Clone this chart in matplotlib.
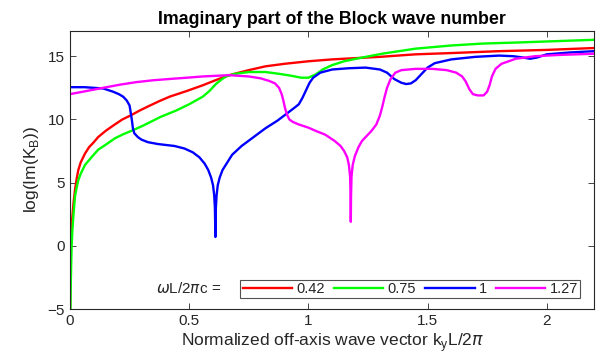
import numpy as np
import matplotlib
matplotlib.use('Agg')
import matplotlib.pyplot as plt

plt.rcParams['font.family'] = ['Liberation Sans', 'DejaVu Sans']
plt.rcParams['mathtext.fontset'] = 'dejavusans'

# values
freqs = ['0.42', '0.75', '1', '1.27']
colors = ['#ff0000', '#00ff00', '#0000ff', '#ff00ff']

x_red = [0.0005, 0.0015, 0.003, 0.004, 0.006, 0.01, 0.015, 0.021, 0.028, 0.035, 0.045,
         0.063, 0.08, 0.1, 0.118, 0.15, 0.188, 0.22, 0.258, 0.292, 0.33, 0.375, 0.418,
         0.49, 0.557, 0.61, 0.668, 0.75, 0.82, 0.9, 1.0, 1.1, 1.2, 1.3, 1.45, 1.6,
         1.8, 2.0, 2.2]
y_red = [-5.0, -2.0, -0.5, 0.0, 1.3, 2.3, 3.4, 4.4, 5.3, 6.0, 6.6,
         7.3, 7.8, 8.2, 8.6, 9.1, 9.6, 10.0, 10.35, 10.7, 11.05, 11.45, 11.8,
         12.25, 12.7, 13.1, 13.5, 13.9, 14.2, 14.4, 14.6, 14.75, 14.85, 14.95, 15.15, 15.25,
         15.4, 15.5, 15.65]

x_green = [0.002, 0.003, 0.005, 0.007, 0.01, 0.014, 0.021, 0.028, 0.035, 0.045, 0.063,
           0.09, 0.118, 0.15, 0.188, 0.22, 0.258, 0.3, 0.327, 0.38, 0.445, 0.5, 0.557,
           0.585, 0.612, 0.635, 0.654, 0.69, 0.75, 0.82, 0.88, 0.93, 0.97, 1.0, 1.03,
           1.06, 1.1, 1.15, 1.2, 1.31, 1.45, 1.6, 1.73, 1.9, 2.05, 2.2]
y_green = [-5.0, -3.5, -1.5, 0.0, 1.2, 2.3, 3.9, 4.6, 5.2, 5.7, 6.4,
           7.0, 7.6, 8.0, 8.5, 8.8, 9.1, 9.45, 9.7, 10.2, 10.7, 11.2, 11.8,
           12.25, 12.8, 13.15, 13.4, 13.6, 13.75, 13.75, 13.6, 13.45, 13.3, 13.3, 13.55,
           13.95, 14.3, 14.6, 14.8, 15.2, 15.6, 15.85, 16.0, 16.1, 16.2, 16.3]

x_blue = [0.0, 0.06, 0.1, 0.139, 0.18, 0.205, 0.223, 0.238, 0.25, 0.256, 0.26, 0.264,
          0.27, 0.285, 0.3, 0.327, 0.37, 0.438, 0.48, 0.515, 0.543, 0.565, 0.58, 0.592,
          0.6, 0.605, 0.608, 0.61, 0.612, 0.615, 0.62, 0.628, 0.64, 0.66, 0.68, 0.72,
          0.77, 0.82, 0.87, 0.905, 0.94, 0.96, 0.975, 0.99, 1.005, 1.02, 1.05, 1.1,
          1.17, 1.24, 1.3, 1.33, 1.36, 1.39, 1.41, 1.43, 1.45, 1.47, 1.5, 1.53, 1.6,
          1.7, 1.8, 1.86, 1.9, 1.93, 1.96, 2.0, 2.1, 2.2]
y_blue = [12.55, 12.55, 12.5, 12.45, 12.2, 12.0, 11.8, 11.5, 11.1, 10.4, 9.9, 9.3,
          8.9, 8.6, 8.4, 8.2, 8.05, 7.9, 7.7, 7.4, 7.0, 6.5, 6.0, 5.4,
          4.8, 4.0, 3.0, 0.7, 3.0, 4.0, 4.8, 5.4, 6.0, 6.6, 7.2, 7.9,
          8.6, 9.3, 9.9, 10.4, 10.9, 11.2, 11.7, 12.3, 12.9, 13.3, 13.7, 13.95,
          14.05, 14.1, 13.95, 13.7, 13.2, 12.9, 12.8, 12.85, 13.1, 13.5, 14.1, 14.45, 14.75,
          14.95, 15.05, 15.0, 14.9, 14.8, 14.9, 15.15, 15.3, 15.4]

x_mag = [0.0, 0.07, 0.139, 0.21, 0.278, 0.35, 0.418, 0.49, 0.557, 0.668, 0.75, 0.8,
         0.835, 0.86, 0.877, 0.888, 0.895, 0.902, 0.91, 0.92, 0.935, 0.96, 1.0, 1.03,
         1.07, 1.11, 1.135, 1.15, 1.163, 1.17, 1.175, 1.177, 1.178, 1.179, 1.181, 1.186,
         1.195, 1.21, 1.225, 1.24, 1.265, 1.285, 1.3, 1.31, 1.32, 1.33, 1.345, 1.365,
         1.39, 1.45, 1.52, 1.58, 1.62, 1.645, 1.66, 1.675, 1.69, 1.71, 1.735, 1.75,
         1.76, 1.77, 1.785, 1.81, 1.87, 1.95, 2.05, 2.2]
y_mag = [12.0, 12.25, 12.5, 12.75, 12.95, 13.1, 13.2, 13.3, 13.4, 13.5, 13.4, 13.25,
         13.05, 12.85, 12.5, 12.0, 11.5, 10.9, 10.4, 10.0, 9.8, 9.6, 9.35, 9.1,
         8.8, 8.3, 7.9, 7.5, 7.0, 6.4, 5.5, 4.0, 1.9, 4.0, 5.5, 6.4,
         7.1, 7.8, 8.3, 8.6, 9.1, 9.6, 10.3, 11.0, 11.8, 12.5, 13.2, 13.7,
         13.9, 14.0, 14.0, 13.9, 13.7, 13.4, 13.0, 12.4, 12.0, 11.9, 11.9, 12.2,
         12.7, 13.4, 14.0, 14.4, 14.8, 15.0, 15.1, 15.2]

xs = [x_red, x_green, x_blue, x_mag]
ys = [y_red, y_green, y_blue, y_mag]

fig = plt.figure(figsize=(5.96, 3.64), dpi=100)
ax = fig.add_axes([0.1174, 0.151, 0.88, 0.764])

for xv, yv, c, lab in zip(xs, ys, colors, freqs):
    ax.plot(xv, yv, color=c, lw=1.7, label=lab)

ax.set_xlim(0, 2.2)
ax.set_ylim(-5, 17)
ax.set_xticks([0, 0.5, 1, 1.5, 2])
ax.set_xticklabels(['0', '0.5', '1', '1.5', '2'])
ax.set_yticks([-5, 0, 5, 10, 15])
ax.tick_params(direction='in', top=True, right=True, labelsize=11,
               colors='#262626', length=4, width=0.6)
for s in ax.spines.values():
    s.set_color('#262626')
    s.set_linewidth(0.8)

ax.set_title('Imaginary part of the Block wave number', fontsize=12.8,
             fontweight='bold', pad=5)
ax.set_xlabel(r'Normalized off-axis wave vector k$_\mathregular{y}$L/2$\pi$',
              fontsize=12.5, color='#262626', labelpad=2)
ax.set_ylabel(r'log(Im(K$_\mathregular{B}$))', fontsize=12.5, color='#262626', labelpad=5)

leg = ax.legend(loc='lower left', bbox_to_anchor=(0.325, 0.04, 0.648, 0.075),
                mode='expand', ncol=4, fontsize=10.5, frameon=True, fancybox=False,
                handlelength=3.4, handletextpad=0.3, columnspacing=0.8,
                borderpad=0.15, borderaxespad=0)
leg.get_frame().set_edgecolor('#262626')
leg.get_frame().set_linewidth(0.8)
for t in leg.get_texts():
    t.set_color('#262626')

ax.text(0.289, 0.0755, r'$\omega$L/2$\pi$c =', transform=ax.transAxes,
        ha='right', va='center', fontsize=11, color='#262626')

fig.savefig('out.png', dpi=100)
